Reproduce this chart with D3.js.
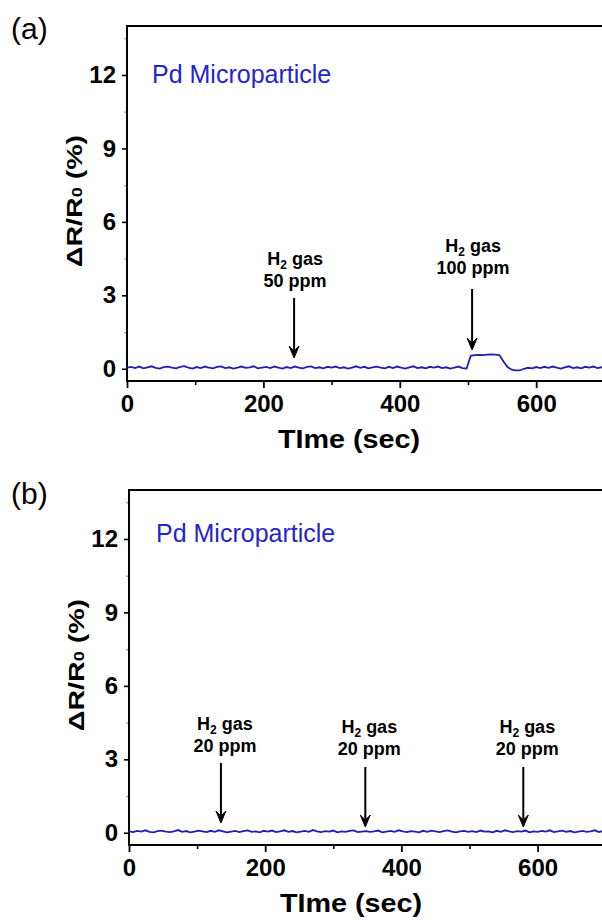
<!DOCTYPE html>
<html>
<head>
<meta charset="utf-8">
<script src="https://cdn.jsdelivr.net/npm/d3@7"></script>
<style>
  body { margin: 0; background: #fff; }
  text { font-family: "Liberation Sans", Arial, sans-serif; }
</style>
</head>
<body>
<svg id="chart" width="602" height="924"></svg>
<script>
// sampling interval of both traces (sec)
const timeStep = 6;

// panel (a): dR/R0 (%) every 6 s from 0 to 720 s
const seriesA = [
  0.05, 0.08, 0.03, 0.09, 0.02, 0.06, 0.10, 0.04, 0.01, 0.07,
  0.09, 0.05, 0.02, 0.08, 0.11, 0.05, 0.01, 0.07, 0.03, 0.09,
  0.05, 0.02, 0.08, 0.10, 0.03, 0.06, 0.01, 0.05, 0.09, 0.04,
  0.06, 0.10, 0.02, 0.05, 0.08, 0.03, 0.09, 0.05, 0.01, 0.07,
  0.03, 0.09, 0.05, 0.02, 0.08, 0.10, 0.03, 0.06, 0.02, 0.08,
  0.05, 0.09, 0.03, 0.06, 0.01, 0.05, 0.10, 0.04, 0.08, 0.02,
  0.06, 0.09, 0.05, 0.02, 0.08, 0.03, 0.09, 0.05, 0.01, 0.06,
  0.10, 0.03, 0.06, 0.02, 0.08, 0.05, 0.09, 0.03, 0.06, 0.01,
  0.05, 0.09, 0.03, 0.01, 0.53, 0.56, 0.57, 0.56, 0.58, 0.59,
  0.58, 0.56, 0.30, 0.07, -0.04, -0.07, -0.07, 0.00, 0.04, 0.02,
  0.07, 0.03, 0.08, 0.04, 0.09, 0.05, 0.01, 0.06, 0.10, 0.03,
  0.06, 0.02, 0.08, 0.05, 0.09, 0.03, 0.06, 0.02, 0.08, 0.05, 0.06
];

// panel (b): dR/R0 (%) every 6 s from 0 to 720 s
const seriesB = [
  0.06, 0.03, 0.08, 0.05, 0.10, 0.04, 0.02, 0.07, 0.09, 0.05,
  0.03, 0.06, 0.11, 0.04, 0.07, 0.02, 0.05, 0.09, 0.06, 0.03,
  0.08, 0.04, 0.10, 0.06, 0.02, 0.05, 0.08, 0.03, 0.07, 0.10,
  0.04, 0.06, 0.02, 0.08, 0.05, 0.09, 0.03, 0.06, 0.10, 0.04,
  0.07, 0.02, 0.05, 0.08, 0.04, 0.11, 0.06, 0.03, 0.07, 0.05,
  0.09, 0.02, 0.06, 0.04, 0.08, 0.10, 0.03, 0.05, 0.07, 0.04,
  0.06, 0.09, 0.02, 0.05, 0.08, 0.04, 0.10, 0.06, 0.03, 0.07,
  0.05, 0.02, 0.08, 0.04, 0.09, 0.06, 0.03, 0.07, 0.10, 0.05,
  0.02, 0.06, 0.08, 0.04, 0.07, 0.03, 0.09, 0.05, 0.06, 0.02,
  0.08, 0.04, 0.10, 0.06, 0.03, 0.07, 0.05, 0.09, 0.02, 0.06,
  0.04, 0.08, 0.05, 0.10, 0.03, 0.06, 0.09, 0.04, 0.07, 0.02,
  0.05, 0.08, 0.04, 0.06, 0.10, 0.03, 0.07, 0.05, 0.09, 0.04, 0.06
];

const xTicks = [0, 200, 400, 600];
const xMinorTicks = [100, 300, 500, 700];
const yTicks = [0, 3, 6, 9, 12];
const yMinorTicks = [1.5, 4.5, 7.5, 10.5, 13.5];

// H2 injection times (sec) and concentrations
const gasTimesA = [245, 506];
const gasLabelsA = ["50 ppm", "100 ppm"];
const gasTimesB = [135, 347, 579];
const gasLabelsB = ["20 ppm", "20 ppm", "20 ppm"];

const W = 602;
const plotH = 355;
const lineColor = "#2020ac";
const svg = d3.select("#chart");

const panels = [
  { tag: "(a)", left: 127, top: 26, px100: 68.2, series: seriesA, times: gasTimesA, labels: gasLabelsA,
    tagY: 39, nameX: 25, nameY: 57,
    notes: [ { dx: 1, l1: 239, a0: 272, a1: 332 },
             { dx: 1, l1: 226, a0: 263, a1: 324 } ] },
  { tag: "(b)", left: 129, top: 490, px100: 68.1, series: seriesB, times: gasTimesB, labels: gasLabelsB,
    tagY: 504, nameX: 27, nameY: 52,
    notes: [ { dx: 4, l1: 240, a0: 273, a1: 333 },
             { dx: 4, l1: 243, a0: 277, a1: 337 },
             { dx: 4, l1: 243, a0: 277, a1: 337 } ] }
];

panels.forEach(p => {
  const g = svg.append("g").attr("transform", `translate(${p.left},${p.top})`);
  const x = d3.scaleLinear().domain([0, 700]).range([0, p.px100 * 7]);
  const y = d3.scaleLinear().domain([-0.5, 14]).range([plotH, 0]);

  // panel tag
  svg.append("text").attr("x", 11).attr("y", p.tagY)
    .attr("font-size", 30).text(p.tag);

  // minor ticks
  g.append("g").attr("transform", `translate(0,${plotH})`)
    .call(d3.axisBottom(x).tickValues(xMinorTicks).tickSize(4).tickFormat(""))
    .call(a => a.select(".domain").remove())
    .selectAll("line").attr("stroke-width", 1.6);
  g.append("g")
    .call(d3.axisLeft(y).tickValues(yMinorTicks).tickSize(3).tickFormat(""))
    .call(a => a.select(".domain").remove())
    .selectAll("line").attr("stroke", "#999").attr("stroke-width", 1.2);

  // major ticks + labels
  const xa = g.append("g").attr("transform", `translate(0,${plotH})`)
    .call(d3.axisBottom(x).tickValues(xTicks).tickSize(7).tickPadding(7).tickFormat(d3.format("d")))
    .call(a => a.select(".domain").remove());
  xa.selectAll("line").attr("stroke-width", 1.8);
  xa.selectAll("text").attr("font-size", 24).attr("font-weight", "bold")
    .attr("font-family", "Liberation Sans, Arial, sans-serif");

  const ya = g.append("g")
    .call(d3.axisLeft(y).tickValues(yTicks).tickSize(5).tickPadding(6).tickFormat(d3.format("d")))
    .call(a => a.select(".domain").remove());
  ya.selectAll("line").attr("stroke-width", 1.6);
  ya.selectAll("text").attr("font-size", 24).attr("font-weight", "bold")
    .attr("font-family", "Liberation Sans, Arial, sans-serif");

  // frame: left, top, bottom (right side runs off the picture)
  g.append("path")
    .attr("d", `M${W},0H0V${plotH}H${W}`)
    .attr("fill", "none").attr("stroke", "#000").attr("stroke-width", 2);

  // trace
  const line = d3.line().x((d, i) => x(i * timeStep)).y(d => y(d));
  g.append("path").datum(p.series)
    .attr("d", line)
    .attr("fill", "none").attr("stroke", lineColor).attr("stroke-width", 1.8)
    .attr("stroke-linejoin", "miter");

  // sample name
  g.append("text").attr("x", p.nameX).attr("y", p.nameY)
    .attr("font-size", 25).attr("fill", "#2424cc").text("Pd Microparticle");

  // gas annotations
  p.times.forEach((t, i) => {
    const n = p.notes[i];
    const ax = x(t);
    const tx = ax + n.dx;
    const txt = g.append("text").attr("x", tx).attr("y", n.l1)
      .attr("text-anchor", "middle").attr("font-size", 18).attr("font-weight", "bold");
    txt.append("tspan").text("H");
    txt.append("tspan").attr("font-size", 12).attr("dy", 4).text("2");
    txt.append("tspan").attr("dy", -4).text(" gas");
    txt.append("tspan").attr("x", tx).attr("dy", 22).text(p.labels[i]);
    g.append("line").attr("x1", ax).attr("x2", ax).attr("y1", n.a0).attr("y2", n.a1 - 4)
      .attr("stroke", "#000").attr("stroke-width", 2);
    g.append("path")
      .attr("d", `M${ax},${n.a1}L${ax - 5},${n.a1 - 12}L${ax},${n.a1 - 7}L${ax + 5},${n.a1 - 12}Z`)
      .attr("fill", "#000").attr("stroke", "#000").attr("stroke-width", 1).attr("stroke-linejoin", "round");
  });

  // axis titles
  svg.append("text").attr("transform", `translate(${p.left + 222},${p.top + 422}) scale(1.15,1)`)
    .attr("text-anchor", "middle").attr("font-size", 25).attr("font-weight", "bold")
    .text("TIme (sec)");

  const yt = svg.append("text")
    .attr("transform", `translate(${p.left - 45},${p.top + 175}) rotate(-90) scale(1.3,1)`)
    .attr("text-anchor", "middle").attr("font-size", 22).attr("font-weight", "bold");
  yt.append("tspan").text("ΔR/R");
  yt.append("tspan").attr("font-size", 14).text("0");
  yt.append("tspan").text(" (%)");
});
</script>
</body>
</html>
